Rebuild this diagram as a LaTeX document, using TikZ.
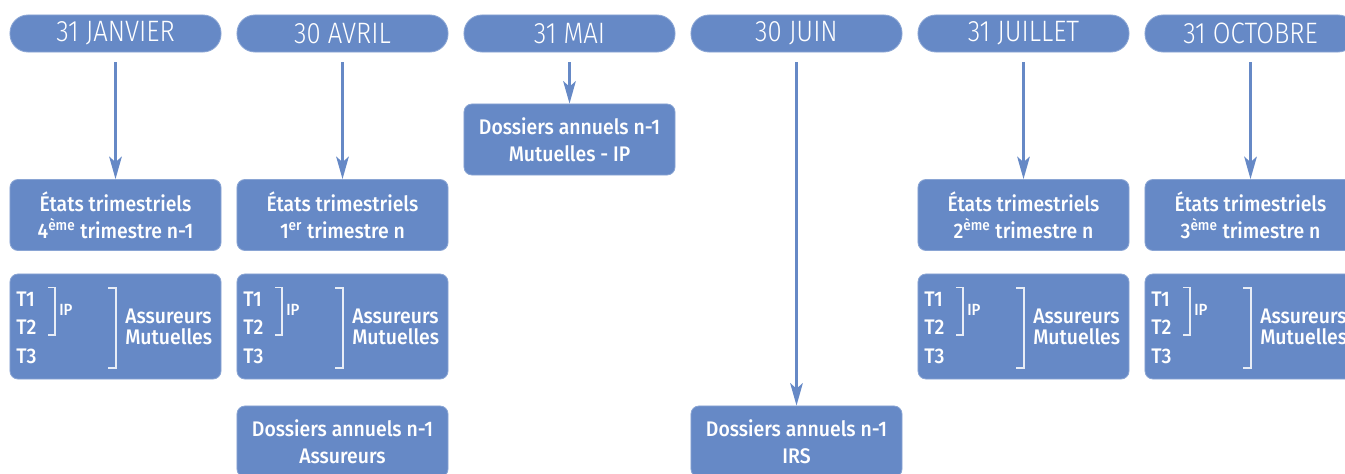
\documentclass[tikz,border=0pt]{standalone}
\usepackage{fontspec}
\setmainfont{Fira Sans Medium}[FakeStretch=0.92]
\newfontfamily\datefont{Fira Sans Light}[FakeStretch=0.87]
\usetikzlibrary{arrows.meta}
\definecolor{calblue}{HTML}{6689C6}
\definecolor{caledge}{HTML}{8AA5D4}

\begin{document}
\begin{tikzpicture}[x=0.025cm,y=-0.025cm,
    date/.style={fill=calblue,draw=caledge,line width=0.6pt,rounded corners=0.45cm,
      minimum width=5.275cm,minimum height=0.925cm,inner sep=0pt,text=white,
      font=\datefont\fontsize{21}{22}\selectfont},
    card/.style={fill=calblue,draw=caledge,line width=0.6pt,rounded corners=0.2cm,
      minimum width=5.275cm,minimum height=1.775cm,inner sep=0pt,text=white,align=center,
      font=\fontsize{15}{19.2}\selectfont},
    lbl/.style={text=white,inner sep=0pt,anchor=west,font=\fontsize{15}{16}\selectfont},
    brk/.style={white!85!calblue,line width=0.9pt},
    link/.style={-{Stealth[length=16pt,width=9pt,inset=4pt]},calblue,line width=1.6pt,shorten <=0.25cm}]
  \useasboundingbox (0,0) rectangle (1345,473);
  \clip (0,0) rectangle (1345,473);

  % dates
  \node[date] (h1) at (115.5,33.5) {31 JANVIER};
  \node[date] (h2) at (342.5,33.5) {30 AVRIL};
  \node[date] (h3) at (569.5,33.5) {31 MAI};
  \node[date] (h4) at (796.5,33.5) {30 JUIN};
  \node[date] (h5) at (1023.5,33.5) {31 JUILLET};
  \node[date] (h6) at (1250.5,33.5) {31 OCTOBRE};

  % quarterly statements
  \node[card] (e1) at (115.5,215) {États trimestriels\\4\textsuperscript{ème} trimestre n-1};
  \node[card] (e2) at (342.5,215) {États trimestriels\\1\textsuperscript{er} trimestre n};
  \node[card] (e5) at (1023.5,215) {États trimestriels\\2\textsuperscript{ème} trimestre n};
  \node[card] (e6) at (1250.5,215) {États trimestriels\\3\textsuperscript{ème} trimestre n};

  % annual files
  \node[card] (d3) at (569.5,139.5) {Dossiers annuels n-1\\Mutuelles - IP};
  \node[card] (d2) at (342.5,441.5) {Dossiers annuels n-1\\Assureurs};
  \node[card] (d4) at (796.5,441.5) {Dossiers annuels n-1\\IRS};

  % T1 T2 T3 boxes
  \foreach \c/\x in {1/115.5,2/342.5,5/1023.5,6/1250.5}{
    \node[card,minimum height=2.625cm] (t\c) at (\x,326.5) {};
    \node[lbl] (t\c a) at (\x-99.5,299) {T1};
    \node[lbl] (t\c b) at (\x-99.5,327) {T2};
    \node[lbl] (t\c c) at (\x-99.5,356) {T3};
    \node[lbl,font=\fontsize{11.5}{12}\selectfont] (t\c ip) at (\x-56.5,310) {IP};
    \node[lbl] (t\c as) at (\x+9.5,316) {Assureurs};
    \node[lbl] (t\c mu) at (\x+9.5,337) {Mutuelles};
    \draw[brk] (\x-67.5,287.5) -- (\x-60.5,287.5) -- (\x-60.5,335) -- (\x-67.5,335);
    \draw[brk] (\x-7.5,288) -- (\x+0.5,288) -- (\x+0.5,368) -- (\x-7.5,368);
  }

  % arrows
  \draw[link] (h1) -- (e1);
  \draw[link] (h2) -- (e2);
  \draw[link] (h3) -- (d3);
  \draw[link] (h4) -- (d4);
  \draw[link] (h5) -- (e5);
  \draw[link] (h6) -- (e6);
\end{tikzpicture}
\end{document}
